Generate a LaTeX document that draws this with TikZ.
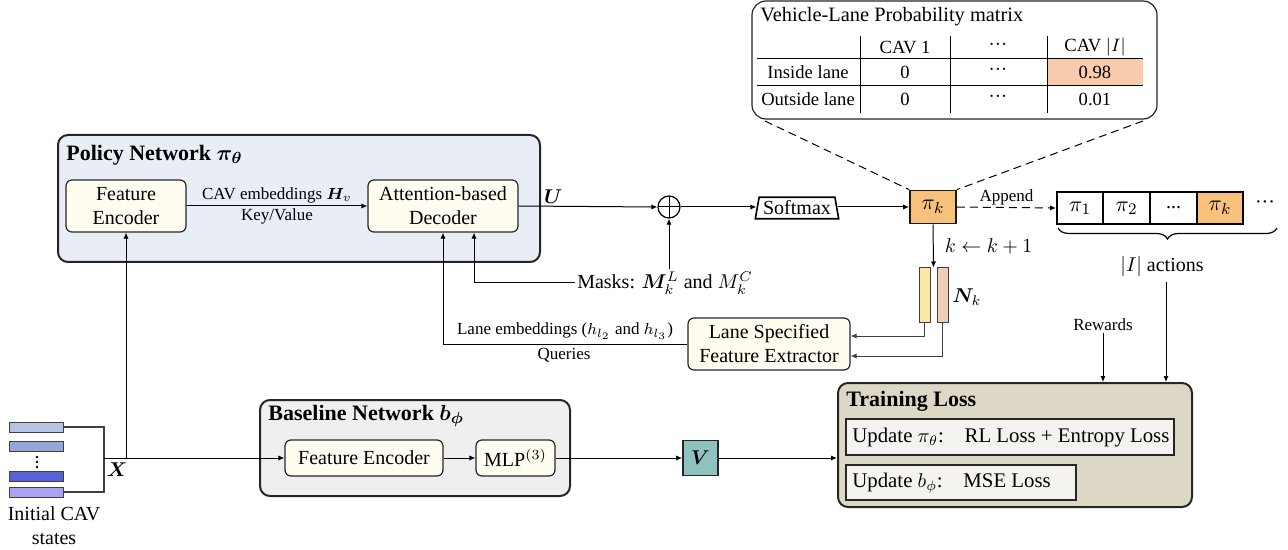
\documentclass[tikz,border=0pt]{standalone}
\usepackage{fontspec}
\setmainfont{Liberation Serif}
\usepackage{amsmath,bm}
\usetikzlibrary{arrows.meta,shapes.geometric,fit,decorations.pathreplacing,calc}
\definecolor{policybg}{HTML}{E9EDF6}
\definecolor{cream}{HTML}{FFFDF0}
\definecolor{basebg}{HTML}{EFEFEF}
\definecolor{trainbg}{HTML}{DDD8C5}
\definecolor{innerbg}{HTML}{F4F3EF}
\definecolor{piorange}{HTML}{F9C27B}
\definecolor{cellpeach}{HTML}{F8CBAD}
\definecolor{baryellow}{HTML}{FCE8A6}
\definecolor{barpeach}{HTML}{F0CDB4}
\definecolor{vteal}{HTML}{8FC1BE}
\definecolor{sa}{HTML}{B6C3E3}
\definecolor{sb}{HTML}{95A7D8}
\definecolor{sc}{HTML}{5762DA}
\definecolor{sd}{HTML}{AAA2F2}
\definecolor{linegray}{HTML}{404040}
\newcommand\fmain{\fontsize{10}{12}\selectfont}
\newcommand\fupd{\fontsize{10.4}{12}\selectfont}
\newcommand\fbig{\fontsize{11}{13}\selectfont}
\newcommand\fsmall{\fontsize{8.5}{10}\selectfont}
\newcommand\ftab{\fontsize{9.3}{11}\selectfont}
\newcommand\fmtitle{\fontsize{10.2}{12}\selectfont}
\newcommand\ftitle{\fontsize{11}{13}\selectfont\bfseries}
\begin{document}
\begin{tikzpicture}[x=0.5pt,y=-0.5pt,
  sz/.style 2 args={minimum width=#1*0.5pt, minimum height=#2*0.5pt, inner sep=0pt},
  box/.style={draw=black!85, line width=0.6pt, rounded corners=3pt, fill=cream, inner sep=0pt, align=center, font=\fmain},
  group/.style={draw=black!85, line width=1pt, rounded corners=5pt, inner sep=0pt},
  arr/.style={-{Latex[length=3pt,width=2.6pt]}, line width=0.5pt},
  lbl/.style={inner sep=1pt, font=\fsmall, align=center},
  tab/.style={inner sep=0pt, font=\ftab},
  listbox/.style={draw=black, line width=1pt, inner sep=0pt, fill=white, font=\fbig},
  inbar/.style={draw=linegray, line width=0.5pt, inner sep=0pt},
  dsh/.style={dash pattern=on 4pt off 2.5pt, line width=0.5pt}
]
\useasboundingbox (0,0) rectangle (1288,550);

% ---------- Probability matrix callout ----------
\node[fit={(752,1)(1157,119)}, draw=black!85, line width=0.6pt, rounded corners=7pt, fill=white, inner sep=0pt] (mat) {};
\fill[cellpeach] (1047,59) rectangle (1143,86);
\draw[line width=0.5pt] (757,59) -- (1143,59) (757,86) -- (1143,86);
\draw[line width=0.5pt] (860,36) -- (860,113) (950,36) -- (950,113) (1047,36) -- (1047,113);
\node[anchor=west, inner sep=0pt, font=\fmtitle] (mtitle) at (760,17) {Vehicle-Lane Probability matrix};
\node[tab] (h1) at (905,47) {CAV 1};
\node[tab] (h2) at (998,47) {···};
\node[tab] (h3) at (1095,47) {CAV $|I|$};
\node[tab] (r1) at (808,72) {Inside lane};
\node[tab] (r2) at (808,99) {Outside lane};
\node[tab] (c11) at (905,72) {0};
\node[tab] (c12) at (998,72) {···};
\node[tab] (c13) at (1095,72) {0.98};
\node[tab] (c21) at (905,99) {0};
\node[tab] (c22) at (998,99) {···};
\node[tab] (c23) at (1095,99) {0.01};

% ---------- Policy network ----------
\node[group, fill=policybg, fit={(58,135)(540,262)}] (policy) {};
\node[anchor=west, inner sep=0pt, font=\ftitle] (ptitle) at (66,155) {Policy Network $\boldsymbol{\pi_\theta}$};
\node[box, sz={120}{52}] (fe) at (126,206) {Feature\\Encoder};
\node[box, sz={150}{52}] (dec) at (443,206) {Attention-based\\Decoder};
\draw[arr] (fe.east) -- node[lbl, above] {CAV embeddings $\boldsymbol{H}_v$} node[lbl, below] {Key/Value} (dec.west);

% ---------- oplus, softmax, pi_k ----------
\node[circle, draw, line width=0.6pt, minimum size=11pt, inner sep=0pt,
  path picture={\draw[line width=0.5pt] (path picture bounding box.north) -- (path picture bounding box.south) (path picture bounding box.west) -- (path picture bounding box.east);}] (plus) at (669,207) {};
\draw[arr] (dec.east) -- node[lbl, above, pos=0.25, font=\fmain] {$\boldsymbol{U}$} (plus.west);
\node[trapezium, trapezium left angle=80, trapezium right angle=80, draw, line width=0.8pt, inner xsep=2pt, inner ysep=1.8pt, font=\fmain] (soft) at (797,208) {Softmax};
\draw[arr] (plus.east) -- (soft.west |- plus.east);
\node[sz={46}{33}, draw=black!90, line width=0.9pt, fill=piorange, font=\fbig] (pik) at (933,207) {$\pi_k$};
\draw[arr] (soft.east |- pik.west) -- (pik.west);
\coordinate (mcl) at (765,121);
\coordinate (mcr) at (1143,121);
\draw[dsh] (mcl) -- (pik.north west);
\draw[dsh] (mcr) -- (pik.north east);

% ---------- masks ----------
\node[inner sep=1pt, font=\fmain] (masks) at (665,283) {Masks: $\boldsymbol{M}_k^L$ and $M_k^C$};
\draw[arr] (plus.south |- masks.north) -- (plus.south);
\draw[arr] (masks.west) -| ([xshift=15.5pt]dec.south);

% ---------- N_k and lane extractor ----------
\node[inbar, fill=baryellow, sz={11}{54}] (yb) at (924.5,295) {};
\node[inbar, fill=barpeach, sz={11}{54}] (pb) at (942.5,295) {};
\node[inner sep=0pt, font=\fmain] (nk) at (967,297) {$\boldsymbol{N}_k$};
\draw[arr] (pik.south) -- node[right, inner sep=0pt, xshift=5.5pt, font=\fmain] (kup) {$k \leftarrow k+1$} ($(yb.north)!0.5!(pb.north)$);
\node[box, sz={162}{52}] (lane) at (769,344) {Lane Specified\\Feature Extractor};
\draw[arr, draw=linegray] (yb.south) |- ([yshift=4pt]lane.east);
\draw[arr, draw=linegray] (pb.south) |- ([yshift=-6pt]lane.east);
\draw[arr] (lane.west) -| (dec.south);
\node[lbl] (lelbl) at (565,331) {Lane embeddings ($h_{l_2}$ and $h_{l_3}$)};
\node[lbl] (qlbl) at (564,355) {Queries};

% ---------- action list ----------
\node[listbox, sz={46}{32}] (l1) at (1080,208) {$\pi_1$};
\node[listbox, sz={47}{32}] (l2) at (1126.5,208) {$\pi_2$};
\node[listbox, sz={47}{32}, font=\fmain] (l3) at (1173.5,208) {...};
\node[listbox, fill=piorange, sz={46}{32}] (l4) at (1220,208) {$\pi_k$};
\node[inner sep=0pt, font=\fmain] (ldots) at (1265,205) {···};
\draw[dsh, -{Latex[length=3pt,width=2.6pt]}] (pik.east) -- node[lbl, above, font=\fsmall] {Append} (l1.west);
\coordinate (brl) at (1058,228);
\coordinate (brr) at (1277,228);
\draw[line width=0.6pt, decorate, decoration={brace, mirror, amplitude=5.5pt}] (brl) -- (brr);
\node[inner sep=1pt, font=\fmain] (actions) at (1162,266) {$|I|$ actions};

% ---------- Training loss ----------
\node[group, fill=trainbg, fit={(838,383)(1192,507)}] (train) {};
\node[anchor=west, inner sep=0pt, font=\ftitle] (ttitle) at (846,401) {Training Loss};
\node[draw=black!85, line width=0.7pt, fill=innerbg, fit={(846,419)(1174,455)}, inner sep=0pt] (u1) {};
\node[anchor=west, inner sep=0pt, font=\fupd] (u1t) at (852,438) {Update $\pi_\theta$:\quad RL Loss + Entropy Loss};
\node[draw=black!85, line width=0.7pt, fill=innerbg, fit={(846,465)(1076,500)}, inner sep=0pt] (u2) {};
\node[anchor=west, inner sep=0pt, font=\fupd] (u2t) at (852,483) {Update $b_\phi$:\quad MSE Loss};
\node[lbl, font=\fsmall] (rew) at (1103,325) {Rewards};
\draw[arr] (rew.south) -- (rew.south |- train.north);
\coordinate (actbot) at (1166,282);
\draw[arr] (actbot) -- (actbot |- train.north);

% ---------- Baseline network ----------
\node[group, fill=basebg, fit={(260,400)(570,496)}] (base) {};
\node[anchor=west, inner sep=0pt, font=\ftitle] (btitle) at (268,416) {Baseline Network $\boldsymbol{b_\phi}$};
\node[box, sz={158}{36}] (fe2) at (364,458) {Feature Encoder};
\node[box, sz={79}{36}] (mlp) at (515.5,458) {MLP$^{(3)}$};
\draw[arr] (fe2.east) -- (mlp.west);
\node[sz={35}{35}, draw=black!85, line width=0.8pt, fill=vteal, font=\fmain] (vv) at (700.5,458) {$\boldsymbol{V}$};
\draw[arr] (mlp.east) -- (vv.west);
\draw[arr] (vv.east) -- (vv.east -| train.west);

% ---------- Initial states ----------
\node[inbar, fill=sa, sz={54}{10}] (s1) at (36,427) {};
\node[inbar, fill=sb, sz={54}{10}] (s2) at (36,446.5) {};
\node[inbar, fill=sc, sz={54}{10}] (s3) at (36,476) {};
\node[inbar, fill=sd, sz={54}{10}] (s4) at (36,492) {};
\foreach \yy in {457,462,467} \fill (37,\yy) circle (0.7pt);
\coordinate (xj) at (104,458);
\draw[draw=linegray, line width=0.6pt] (s1.east) -| (xj) |- (s4.east);
\draw[arr] (xj) -- (fe2.west);
\draw[arr] (fe.south |- xj) -- (fe.south);
\node[inner sep=0pt, font=\fmain] (xl) at (117,470) {$\boldsymbol{X}$};
\node[inner sep=0pt, font=\fmain, align=center] (init) at (54,526) {Initial CAV\\states};
\end{tikzpicture}
\end{document}
